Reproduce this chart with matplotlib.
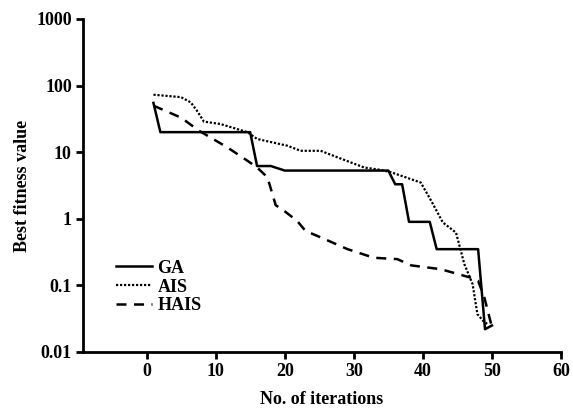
import matplotlib
matplotlib.use("Agg")
import matplotlib.pyplot as plt
from matplotlib.ticker import FixedLocator, FixedFormatter, NullLocator

# Data
ga_x = [1, 2, 15, 16, 18, 20, 35, 36, 37, 38, 41, 42, 48, 49, 50]
ga_y = [55, 20, 20, 6.2, 6.2, 5.3, 5.3, 3.3, 3.3, 0.9, 0.9, 0.35, 0.35, 0.022, 0.025]

ais_x = [1, 5, 6.4, 7.3, 8.3, 10.7, 14.6, 16, 20.4, 22.3, 25.2, 27.6, 31.5, 34, 35.4,
         39.7, 41.2, 42.9, 44.8, 46, 47.2, 47.9, 48.9, 49.5]
ais_y = [73, 67, 56, 42, 28.8, 26.5, 20, 15.8, 12.5, 10.5, 10.5, 8.4, 5.9, 5.4, 5.0,
         3.5, 1.87, 0.88, 0.62, 0.21, 0.105, 0.037, 0.028, 0.026]

hais_x = [1, 5, 7.6, 11.7, 14.6, 16, 17.5, 18.7, 19.9, 21.8, 23, 25.7, 29.1, 32.9,
          36.3, 38.3, 42.6, 47, 48, 48.9, 49.9]
hais_y = [50, 33, 21, 11.8, 7.45, 5.9, 4.2, 1.6, 1.32, 0.93, 0.66, 0.5, 0.35, 0.26,
          0.248, 0.2, 0.175, 0.13, 0.117, 0.066, 0.026]

y_ticks = [0.01, 0.1, 1, 10, 100, 1000]
y_tick_labels = ["0.01", "0.1", "1", "10", "100", "1000"]
x_ticks = [0, 10, 20, 30, 40, 50, 60]

plt.rcParams['font.family'] = ['Liberation Serif', 'DejaVu Serif']
plt.rcParams['font.weight'] = 'bold'

fig = plt.figure(figsize=(5.73, 4.12), dpi=100)
ax = fig.add_axes([83/573, 1-352/412, (561-83)/573, (352-19)/412])

ax.plot(ga_x, ga_y, color='black', lw=1.8, ls='-', label='GA')
ax.plot(ais_x, ais_y, color='black', lw=1.6, ls=(0, (1, 0.8)), label='AIS')
ax.plot(hais_x, hais_y, color='black', lw=1.8, ls=(0, (4, 3)), label='HAIS')

ax.set_yscale('log')
ax.set_ylim(0.01, 1000)
ax.set_xlim(-9.2, 60)
ax.yaxis.set_major_locator(FixedLocator(y_ticks))
ax.yaxis.set_major_formatter(FixedFormatter(y_tick_labels))
ax.yaxis.set_minor_locator(NullLocator())
ax.set_xticks(x_ticks)

for s in ['top', 'right']:
    ax.spines[s].set_visible(False)
for s in ['left', 'bottom']:
    ax.spines[s].set_linewidth(2)

ax.tick_params(axis='both', direction='out', length=5, width=2, labelsize=13, pad=3)
for lab in ax.get_xticklabels() + ax.get_yticklabels():
    lab.set_fontweight('bold')

ax.set_xlabel('No. of iterations', fontsize=13, fontweight='bold', labelpad=8)
ax.set_ylabel('Best fitness value', fontsize=13, fontweight='bold', labelpad=4)

leg = ax.legend(loc='center left', bbox_to_anchor=(0.069, 0.195), frameon=False,
                fontsize=13, handlelength=2.0, handletextpad=0.3, labelspacing=0.1,
                borderpad=0, borderaxespad=0)

fig.savefig('out.png', dpi=100)
